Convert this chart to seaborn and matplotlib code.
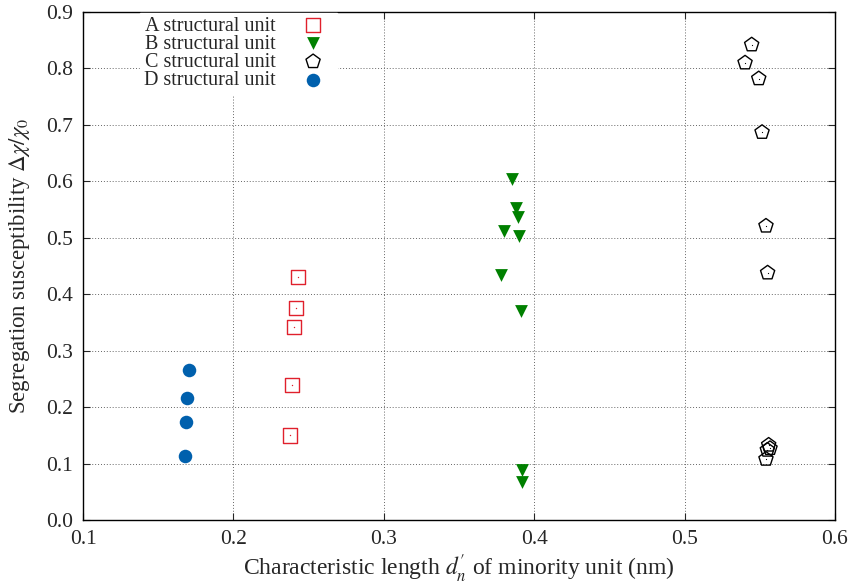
import pandas as pd
import matplotlib
matplotlib.use("Agg")
import matplotlib.pyplot as plt
import seaborn as sns

# values
a_x = [0.2428, 0.2416, 0.2403, 0.2388, 0.2374]
a_y = [0.430, 0.376, 0.342, 0.239, 0.150]
b_x = [0.3854, 0.3879, 0.3894, 0.3801, 0.3901, 0.3781, 0.3914, 0.3920, 0.3917]
b_y = [0.605, 0.553, 0.537, 0.512, 0.503, 0.434, 0.371, 0.089, 0.067]
c_x = [0.5446, 0.5402, 0.5493, 0.5515, 0.5541, 0.5552, 0.5559, 0.5568, 0.5550, 0.5541]
c_y = [0.842, 0.810, 0.782, 0.687, 0.521, 0.438, 0.133, 0.127, 0.124, 0.108]
d_x = [0.1705, 0.1691, 0.1685, 0.1676]
d_y = [0.266, 0.216, 0.173, 0.114]

labels = ["A structural unit", "B structural unit", "C structural unit", "D structural unit"]
x_ticks = [0.1, 0.2, 0.3, 0.4, 0.5, 0.6]
y_ticks = [0.0, 0.1, 0.2, 0.3, 0.4, 0.5, 0.6, 0.7, 0.8, 0.9]

sns.set_style("ticks")
plt.rcParams["font.family"] = ["Liberation Serif", "DejaVu Serif"]
plt.rcParams["mathtext.fontset"] = "stix"

fig = plt.figure(figsize=(8.49, 5.85), dpi=100)
ax = fig.add_axes([0.0978, 0.111, 0.8857, 0.8685])

dfa = pd.DataFrame({"x": a_x, "y": a_y})
dfb = pd.DataFrame({"x": b_x, "y": b_y})
dfc = pd.DataFrame({"x": c_x, "y": c_y})
dfd = pd.DataFrame({"x": d_x, "y": d_y})

red = "#e0202c"
green = "#008000"
blue = "#0060ad"

sns.scatterplot(data=dfa, x="x", y="y", ax=ax, marker="s", s=105,
                facecolor="none", edgecolor=red, linewidth=1.0, label=labels[0], zorder=3)
sns.scatterplot(data=dfa, x="x", y="y", ax=ax, marker=".", s=4,
                color=red, linewidth=0, legend=False, zorder=4)
sns.scatterplot(data=dfb, x="x", y="y", ax=ax, marker="v", s=85,
                color=green, linewidth=0, label=labels[1], zorder=3)
sns.scatterplot(data=dfc, x="x", y="y", ax=ax, marker="p", s=115,
                facecolor="none", edgecolor="black", linewidth=1.0, label=labels[2], zorder=3)
sns.scatterplot(data=dfc, x="x", y="y", ax=ax, marker=".", s=3,
                color="black", linewidth=0, legend=False, zorder=4)
sns.scatterplot(data=dfd, x="x", y="y", ax=ax, marker="o", s=95,
                color=blue, linewidth=0, label=labels[3], zorder=3)

ax.set_xlim(0.1, 0.6)
ax.set_ylim(0.0, 0.9)
ax.set_xticks(x_ticks)
ax.set_yticks(y_ticks)
ax.set_xticklabels([f"{v:.1f}" for v in x_ticks])
ax.set_yticklabels([f"{v:.1f}" for v in y_ticks])
ax.tick_params(direction="in", length=5, width=0.8, top=True, right=True,
               labelsize=15.5, pad=7)
ax.grid(True, color="#666666", linestyle=(0, (1, 2)), linewidth=0.7)
ax.set_axisbelow(True)
for sp in ax.spines.values():
    sp.set_linewidth(1.0)
    sp.set_color("black")

ax.set_xlabel(r"Characteristic length $d_n^{\prime}$ of minority unit (nm)", fontsize=17, labelpad=3)
ax.set_ylabel(r"Segregation susceptibility $\Delta\chi/\chi_0$", fontsize=16.5, labelpad=10)

leg = ax.legend(loc="upper left", bbox_to_anchor=(0.076, 0.999), markerfirst=False,
                frameon=True, fancybox=False, framealpha=1, edgecolor="white",
                fontsize=14.5, handletextpad=0.85, labelspacing=-0.05, borderpad=0.2,
                borderaxespad=0.0)
for t in leg.get_texts():
    t.set_ha("right")

fig.savefig("out.png", dpi=100)
